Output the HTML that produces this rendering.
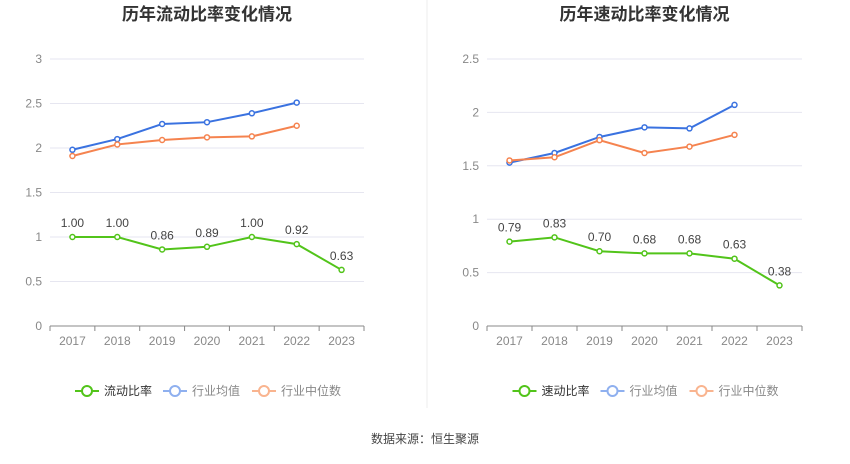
<!DOCTYPE html>
<html><head><meta charset="utf-8"><style>
body{margin:0;background:#fff;font-family:"Liberation Sans","Noto Sans CJK SC",sans-serif;}
svg text{font-family:"Liberation Sans","Noto Sans CJK SC",sans-serif;}
</style></head><body>
<svg id="c" width="850" height="459"></svg>
<script>
const years=["2017","2018","2019","2020","2021","2022","2023"];
const curRatio=[1.00,1.00,0.86,0.89,1.00,0.92,0.63];
const curAvg=[1.98,2.10,2.27,2.29,2.39,2.51];
const curMed=[1.91,2.04,2.09,2.12,2.13,2.25];
const quickRatio=[0.79,0.83,0.70,0.68,0.68,0.63,0.38];
const quickAvg=[1.53,1.62,1.77,1.86,1.85,2.07];
const quickMed=[1.55,1.58,1.74,1.62,1.68,1.79];
const leftTicks=["0","0.5","1","1.5","2","2.5","3"];
const rightTicks=["0","0.5","1","1.5","2","2.5"];
const NS="http://www.w3.org/2000/svg",svg=document.getElementById("c");
function el(t,a,txt,p){const e=document.createElementNS(NS,t);for(const k in a)e.setAttribute(k,a[k]);if(txt!=null)e.textContent=txt;(p||svg).appendChild(e);return e;}
function chart(o){
 const g=el("g",{});
 
 
 const y0=326,y1=59,max=o.max,x0=o.x0,x1=o.x1;
 const Y=v=>y0-(v/max)*(y0-y1);
 const step=(x1-x0)/7;const X=i=>x0+step*(i+0.5);
 const t=el("text",{x:(x0+x1)/2,y:20,"text-anchor":"middle","font-size":"17","font-weight":"bold",fill:"#333"},o.title,g);
 
 o.ticks.forEach(s=>{const v=parseFloat(s),y=Y(v);
  if(v>0)el("line",{x1:x0,x2:x1,y1:y,y2:y,stroke:"#e6e6f0","stroke-width":1},null,g);
  const tt=el("text",{x:x0-8,y:y+4,"text-anchor":"end","font-size":"12",fill:"#888"},s,g);
  });
 el("line",{x1:x0,x2:x1,y1:y0,y2:y0,stroke:"#888","stroke-width":1},null,g);
 years.forEach((yr,i)=>{el("line",{x1:x0+step*(i+1),x2:x0+step*(i+1),y1:y0,y2:y0+5,stroke:"#888"},null,g);
  const tt=el("text",{x:X(i),y:345,"text-anchor":"middle","font-size":"12",fill:"#888"},yr,g);
  });
 el("line",{x1:x0,x2:x0,y1:y0,y2:y0+5,stroke:"#888"},null,g);
 function series(d,c,nm,labels){
  const pl=el("polyline",{points:d.map((v,i)=>X(i)+","+Y(v)).join(" "),fill:"none",stroke:c,"stroke-width":2},null,g);
  
  d.forEach((v,i)=>{const p=el("circle",{cx:X(i),cy:Y(v),r:2.5,fill:"#fff",stroke:c,"stroke-width":1.5},null,g);
   
   if(labels){const l=el("text",{x:X(i),y:Y(v)-10,"text-anchor":"middle","font-size":"12",fill:"#444"},v.toFixed(2),g);
    }});
 }
 series(o.avg,"#3a72e0","industry-avg");
 series(o.med,"#f5834f","industry-median");
 series(o.main,"#52c41a","main",true);
 const lx=(x0+x1)/2-132;
 [[o.label,"#52c41a",0,"#333"],["行业均值","#8fb0ef",88,"#888"],["行业中位数","#f9b48f",177,"#888"]].forEach(([n,c,dx,tc])=>{
  const lg=el("g",{},null,g);
  el("line",{x1:lx+dx,x2:lx+dx+24,y1:391,y2:391,stroke:c,"stroke-width":2},null,lg);
  el("circle",{cx:lx+dx+12,cy:391,r:5,fill:"#fff",stroke:c,"stroke-width":2},null,lg);
  el("text",{x:lx+dx+29,y:395,"font-size":"12",fill:tc},n,lg);});
}
chart({name:"current-ratio-chart",title:"历年流动比率变化情况",x0:50,x1:364,max:3,ticks:leftTicks,main:curRatio,avg:curAvg,med:curMed,label:"流动比率"});
chart({name:"quick-ratio-chart",title:"历年速动比率变化情况",x0:487,x1:802,max:2.5,ticks:rightTicks,main:quickRatio,avg:quickAvg,med:quickMed,label:"速动比率"});
const dv=el("line",{x1:427,x2:427,y1:0,y2:408,stroke:"#eee"});

const src=el("text",{x:425,y:443,"text-anchor":"middle","font-size":"12",fill:"#444"},"数据来源：恒生聚源");

</script></body></html>
